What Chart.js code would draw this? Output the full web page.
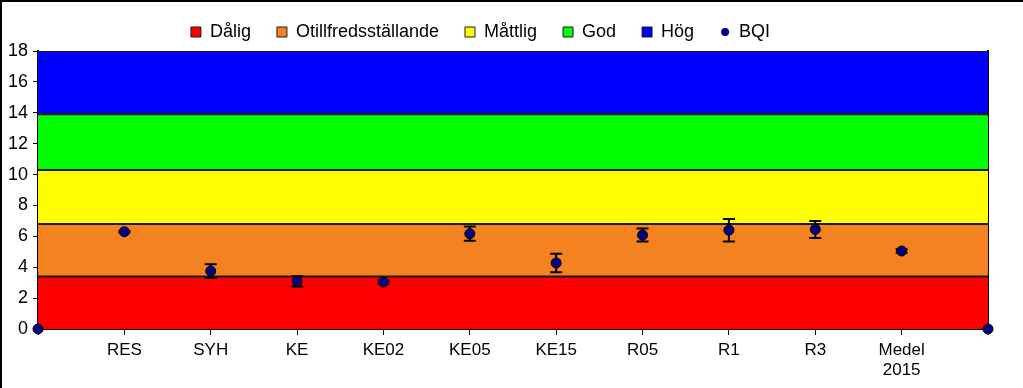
<!DOCTYPE html>
<html>
<head>
<meta charset="utf-8">
<script src="https://cdn.jsdelivr.net/npm/chart.js@4"></script>
<style>
  html, body { margin: 0; padding: 0; background: #fff; }
</style>
</head>
<body>
<canvas id="bqiChart" width="1023" height="388"></canvas>
<script>
// data
const categories = ["", "RES", "SYH", "KE", "KE02", "KE05", "KE15", "R05", "R1", "R3", ["Medel", "2015"], ""];
const bqiValues = [0, 6.3, 3.75, 3.08, 3.04, 6.17, 4.28, 6.08, 6.4, 6.45, 5.05, 0];
const bqiErrors = [0, 0.05, 0.45, 0.33, 0.1, 0.46, 0.6, 0.42, 0.73, 0.55, 0.12, 0];
const classNames = ["Dålig", "Otillfredsställande", "Måttlig", "God", "Hög"];
const classUpper = [3.4, 6.8, 10.3, 13.9, 18];
const classColors = ["#ff0000", "#f58220", "#ffff00", "#00ff00", "#0000ff"];

const FONT = "'Liberation Sans', Arial, sans-serif";

// small dot for the BQI legend entry
const legendDot = document.createElement("canvas");
legendDot.width = 10;
legendDot.height = 10;
(function () {
  const c = legendDot.getContext("2d");
  c.beginPath();
  c.arc(5, 5, 4, 0, Math.PI * 2);
  c.fillStyle = "#000080";
  c.fill();
})();

const classDatasets = classNames.map((name, i) => ({
  label: name,
  data: categories.map(() => classUpper[i]),
  backgroundColor: classColors[i],
  borderColor: "#1a1a1a",
  borderWidth: 2,
  pointRadius: 0,
  pointStyle: "rect",
  fill: i === 0 ? "origin" : "-1",
  order: 1,
}));

const errorBars = {
  id: "errorBars",
  beforeDatasetDraw(chart, args) {
    if (chart.data.datasets[args.index].label !== "BQI") return;
    const ctx = chart.ctx;
    const y = chart.scales.y;
    ctx.save();
    ctx.strokeStyle = "#000";
    ctx.lineWidth = 2;
    args.meta.data.forEach((pt, i) => {
      const err = bqiErrors[i];
      if (!err) return;
      const top = y.getPixelForValue(bqiValues[i] + err);
      const bot = y.getPixelForValue(bqiValues[i] - err);
      ctx.beginPath();
      ctx.moveTo(pt.x, top);
      ctx.lineTo(pt.x, bot);
      ctx.moveTo(pt.x - 6, top);
      ctx.lineTo(pt.x + 6, top);
      ctx.moveTo(pt.x - 6, bot);
      ctx.lineTo(pt.x + 6, bot);
      ctx.stroke();
    });
    ctx.restore();
  },
};

const frame = {
  id: "frame",
  afterLayout(chart) {
    // legend sits a bit left of centre in the original
    chart.legend.right -= 62;
  },
  beforeDraw(chart) {
    const ctx = chart.ctx;
    ctx.save();
    ctx.fillStyle = "#fff";
    ctx.fillRect(0, 0, chart.width, chart.height);
    ctx.restore();
  },
  afterDraw(chart) {
    const ctx = chart.ctx;
    ctx.save();
    ctx.strokeStyle = "#000";
    ctx.lineWidth = 2;
    ctx.beginPath();
    ctx.moveTo(1, chart.height);
    ctx.lineTo(1, 1);
    ctx.lineTo(chart.width, 1);
    ctx.stroke();
    ctx.restore();
  },
};

new Chart(document.getElementById("bqiChart"), {
  type: "line",
  data: {
    labels: categories,
    datasets: [
      ...classDatasets,
      {
        label: "BQI",
        data: bqiValues,
        showLine: false,
        pointRadius: 5,
        pointStyle: "circle",
        backgroundColor: "#000080",
        borderColor: "#000",
        borderWidth: 1,
        clip: false,
        order: 0,
      },
    ],
  },
  options: {
    responsive: false,
    animation: false,
    events: [],
    layout: { padding: { top: -3, left: 0, right: 0, bottom: 0 } },
    scales: {
      x: {
        offset: false,
        grid: { drawOnChartArea: false, drawTicks: true, tickLength: 6, color: "#000" },
        border: { color: "#000", width: 2 },
        ticks: { color: "#000", font: { family: FONT, size: 17, lineHeight: 1.2 }, padding: 5, maxRotation: 0, autoSkip: false },
        afterFit: (s) => { s.height = 59; },
      },
      y: {
        min: 0,
        max: 18,
        ticks: { stepSize: 2, color: "#000", font: { family: FONT, size: 18 }, padding: 5 },
        grid: { drawOnChartArea: false, drawTicks: true, tickLength: 5, color: "#000" },
        border: { color: "#000", width: 2 },
        afterFit: (s) => { s.width = 38; },
      },
      y2: {
        position: "right",
        min: 0,
        max: 18,
        ticks: { display: false },
        grid: { drawOnChartArea: false, drawTicks: false },
        border: { color: "#000", width: 2 },
        afterFit: (s) => { s.width = 35; },
      },
    },
    plugins: {
      tooltip: { enabled: false },
      legend: {
        labels: {
          usePointStyle: true,
          boxWidth: 10,
          boxHeight: 10,
          padding: 26,
          color: "#000",
          font: { family: FONT, size: 18 },
          sort: (a, b) => a.datasetIndex - b.datasetIndex,
          generateLabels(chart) {
            const items = Chart.defaults.plugins.legend.labels.generateLabels(chart);
            items.forEach((it) => {
              it.lineWidth = 1;
              if (it.text === "BQI") it.pointStyle = legendDot;
            });
            return items;
          },
        },
      },
    },
  },
  plugins: [errorBars, frame],
});
</script>
</body>
</html>
